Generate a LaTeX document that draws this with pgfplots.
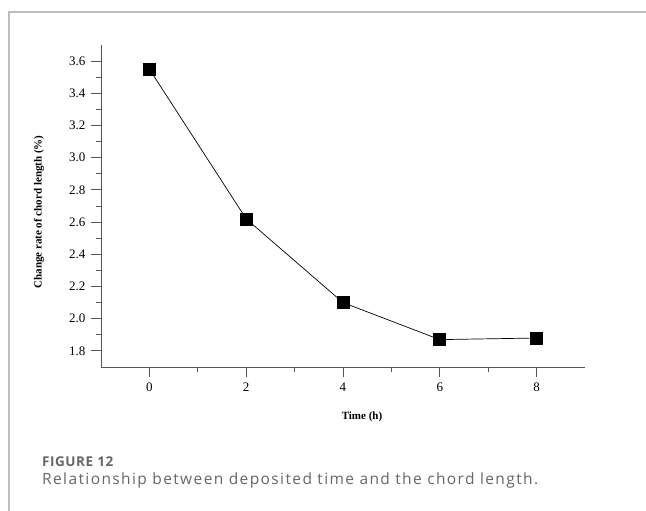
\documentclass[border=0pt]{standalone}
\usepackage{pgfplots}
\pgfplotsset{compat=1.18}
\usepackage{fontspec}
\setmainfont{Liberation Serif}
\newfontfamily\capfont{Open Sans}[LetterSpace=4]
\newfontfamily\capfontls{Open Sans}[LetterSpace=9]
\definecolor{framegray}{HTML}{BDBDBD}
\definecolor{axgray}{HTML}{555555}
\definecolor{capgray}{HTML}{666666}
\begin{document}
\begin{tikzpicture}[x=1pt,y=1pt]
\path[use as bounding box] (0,0) rectangle (646,511);
\draw[framegray, line width=1.2pt] (9,0) -- (9,499) -- (646,499);
\begin{axis}[
  at={(101pt,144pt)}, anchor=south west,
  scale only axis, width=484pt, height=322pt,
  xmin=-1, xmax=9, ymin=1.7, ymax=3.7,
  axis lines*=left,
  axis line style={axgray, line width=0.9pt},
  xtick={0,2,4,6,8},
  minor xtick={1,3,5,7},
  ytick={1.8,2.0,...,3.61},
  minor ytick={1.9,2.1,...,3.51},
  tick align=outside,
  major tick length=10pt, minor tick length=5pt,
  every tick/.style={axgray, line width=0.9pt},
  tick label style={font=\fontsize{13}{15}\selectfont},
  /pgf/number format/assume math mode=true,
  yticklabel style={/pgf/number format/fixed, /pgf/number format/fixed zerofill, /pgf/number format/precision=1, xshift=-2pt},
  xticklabel style={yshift=-2pt},
]
\addplot[black, line width=0.7pt, mark=square*, mark size=6pt, mark options={solid}]
  coordinates {(0,3.55) (2,2.62) (4,2.10) (6,1.87) (8,1.88)};
\end{axis}
\node[rotate=90, inner sep=0pt, font=\fontsize{11}{13}\selectfont\bfseries] at (39,299) {Change rate of chord length (\%)};
\node[inner sep=0pt, font=\fontsize{11}{13}\selectfont\bfseries] at (362,94) {Time (h)};
\node[anchor=base west, text=capgray, inner sep=0pt] at (42,44) {\capfont\fontsize{13.5}{15}\selectfont\bfseries FIGURE 12};
\node[anchor=base west, text=capgray, inner sep=0pt] at (42,26) {\capfontls\fontsize{15.5}{17}\selectfont Relationship between deposited time and the chord length.};
\end{tikzpicture}
\end{document}
